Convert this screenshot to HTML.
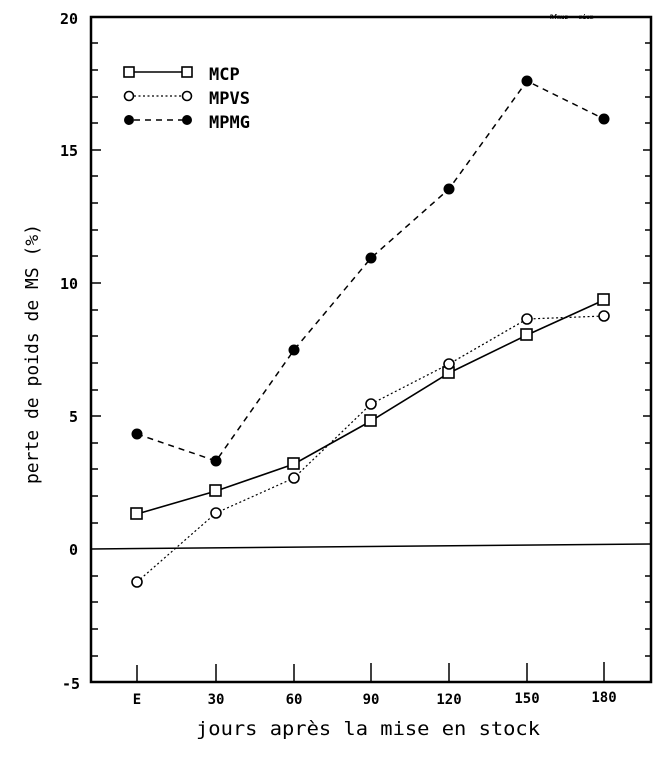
<!DOCTYPE html>
<html><head><meta charset="utf-8"><style>
html,body{margin:0;padding:0;background:#fff;}
svg{display:block;}
text{font-family:"DejaVu Sans Mono","Liberation Mono",monospace;fill:#000;}
</style></head><body>
<svg width="672" height="757" viewBox="0 0 672 757">
<g stroke="#000" fill="none">
<rect x="91" y="17" width="560" height="665" stroke-width="2.5"/>
<line x1="91" y1="549" x2="651" y2="544" stroke-width="1.5"/>
<g stroke-width="1.5">
<path d="M91 43h7M91 70h7M91 97h7M91 123h7M91 150h10M91 176h7M91 203h7M91 230h7M91 256h7M91 283h10M91 310h7M91 336h7M91 363h7M91 390h7M91 416h10M91 443h7M91 469h7M91 496h7M91 523h7M91 576h7M91 602h7M91 629h7M91 656h7"/>
<path d="M651 43h-6M651 70h-6M651 97h-6M651 123h-6M651 150h-8M651 176h-6M651 203h-6M651 230h-6M651 256h-6M651 283h-8M651 310h-6M651 336h-6M651 363h-6M651 390h-6M651 416h-8M651 443h-6M651 469h-6M651 496h-6M651 523h-6M651 576h-6M651 602h-6M651 629h-6M651 656h-6"/>
<path d="M137 682v-17M216 682v-18M294 682v-18M371 682v-19M449 682v-19M527 682v-19M604 682v-20"/>
</g>
<polyline points="137,514 216,491 294,464 371,421 449,373 527,335 604,300" stroke-width="1.6"/>
<polyline points="137,582 216,513 294,478 371,404 449,364 527,319 604,316" stroke-width="1.2" stroke-dasharray="2,2.5"/>
<polyline points="137,434 216,461 294,350 371,258 449,189 527,81 604,119" stroke-width="1.5" stroke-dasharray="6,5"/>
<line x1="133" y1="72" x2="184" y2="72" stroke-width="1.6"/>
<line x1="134" y1="96" x2="184" y2="96" stroke-width="1.2" stroke-dasharray="2,2.5"/>
<line x1="134" y1="120" x2="184" y2="120" stroke-width="1.5" stroke-dasharray="6,5"/>
</g>
<g fill="#fff" stroke="#000" stroke-width="1.6">
<rect x="131" y="508" width="11" height="11"/><rect x="210" y="485" width="11" height="11"/><rect x="288" y="458" width="11" height="11"/><rect x="365" y="415" width="11" height="11"/><rect x="443" y="367" width="11" height="11"/><rect x="521" y="329" width="11" height="11"/><rect x="598" y="294" width="11" height="11"/>
<rect x="124" y="67" width="10" height="10"/><rect x="182" y="67" width="10" height="10"/>
<circle cx="137" cy="582" r="5"/><circle cx="216" cy="513" r="5"/><circle cx="294" cy="478" r="5"/><circle cx="371" cy="404" r="5"/><circle cx="449" cy="364" r="5"/><circle cx="527" cy="319" r="5"/><circle cx="604" cy="316" r="5"/>
<circle cx="129" cy="96" r="4.5"/><circle cx="187" cy="96" r="4.5"/>
</g>
<g fill="#000">
<circle cx="137" cy="434" r="5.5"/><circle cx="216" cy="461" r="5.5"/><circle cx="294" cy="350" r="5.5"/><circle cx="371" cy="258" r="5.5"/><circle cx="449" cy="189" r="5.5"/><circle cx="527" cy="81" r="5.5"/><circle cx="604" cy="119" r="5.5"/>
<circle cx="129" cy="120" r="5"/><circle cx="187" cy="120" r="5"/>
</g>
<g font-size="17" font-weight="bold">
<text x="209" y="80">MCP</text>
<text x="209" y="104">MPVS</text>
<text x="209" y="128">MPMG</text>
</g>
<g font-size="15" font-weight="bold" text-anchor="end">
<text x="78" y="24">20</text>
<text x="78" y="156">15</text>
<text x="78" y="289">10</text>
<text x="78" y="422">5</text>
<text x="78" y="555">0</text>
<text x="80" y="689">-5</text>
</g>
<g font-size="14" font-weight="bold" text-anchor="middle">
<text x="137" y="704">E</text><text x="216" y="704">30</text><text x="294" y="704">60</text><text x="371" y="704">90</text><text x="449" y="704">120</text><text x="527" y="703">150</text><text x="604" y="702">180</text>
</g>
<text x="196" y="735" font-size="19" textLength="344" lengthAdjust="spacingAndGlyphs">jours après la mise en stock</text>
<text transform="translate(38,354) rotate(-90)" font-size="18" text-anchor="middle">perte de poids de MS (%)</text>
<text x="550" y="19" font-size="6" font-weight="bold">Rfmuz · mium</text>
</svg>
</body></html>
